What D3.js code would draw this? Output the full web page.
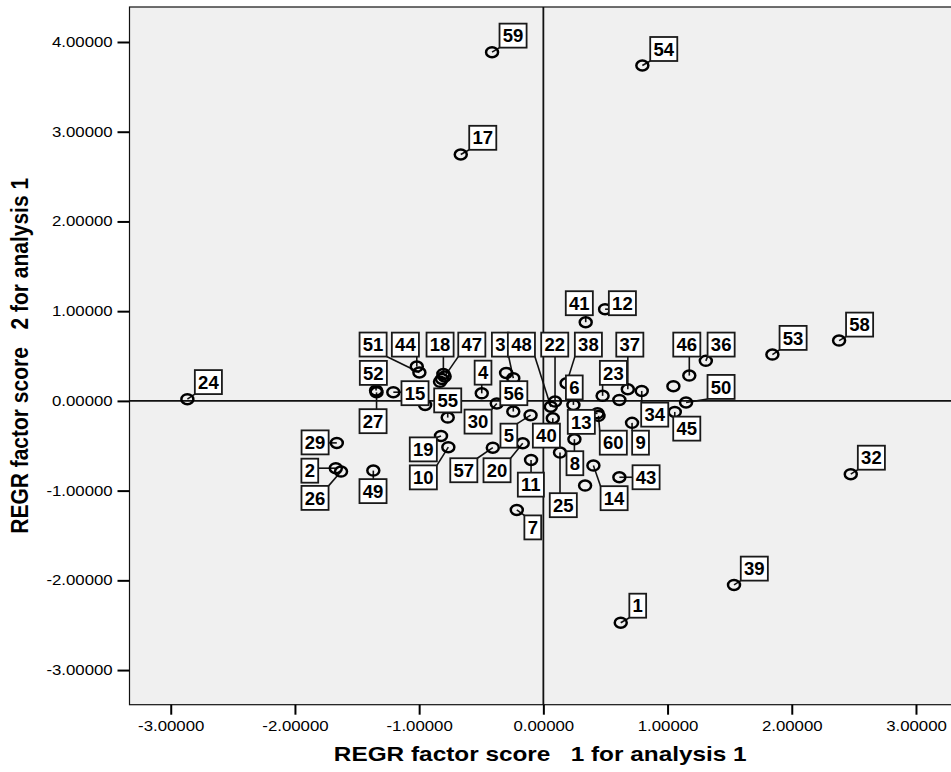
<!DOCTYPE html>
<html>
<head>
    <style>
        body { margin: 0; background: #fff; }
        text { font-family: "Liberation Sans", Arial, sans-serif; fill: #000; }
        .tick line { stroke: #000; stroke-width: 2px; }
        .tick text { font-size: 14px; }
        .axis-title { font-size: 21px; font-weight: bold; white-space: pre; }
        .ref { stroke: #111; stroke-width: 1.8px; }
        .leader { stroke: #111; stroke-width: 1.6px; }
        .pt { fill: none; stroke: #000; stroke-width: 2.5px; }
        .lbl rect { fill: #fff; stroke: #1a1a1a; stroke-width: 1.8px; }
        .lbl text { font-size: 18.5px; font-weight: bold; }
    </style>
</head>
<body>
    <script src="https://cdnjs.cloudflare.com/ajax/libs/d3/7.8.5/d3.min.js"></script>
    <script>
        // case numbers and their two factor scores
        var caseIds = d3.range(1, 61);
        var factor1 = [
            0.623, -1.671, -0.242, -0.496, -0.103, 0.242, -0.214, 0.250, 0.714, -0.765,
            -0.099, 0.497, 0.436, 0.403, -1.208, -0.300, -0.665, -0.805, -0.824, -0.166,
            -0.832, 0.094, 0.477, -2.866, 0.134, -1.629, -1.343, -0.952, -1.663, -0.375,
            0.612, 2.475, 1.047, 0.792, 0.336, 1.308, 0.680, 0.187, 1.535, 0.076,
            0.341, -0.816, 0.612, -1.019, 1.058, 1.175, -0.795, 0.060, -1.369, 1.149,
            -0.998, -1.347, 1.844, 0.797, -0.770, -0.242, -0.407, 2.381, -0.413, 0.444
        ];
        var factor2 = [
            -2.472, -0.750, 0.253, 0.084, -0.159, -0.045, -1.215, -0.427, -0.245, -0.516,
            -0.658, 1.022, -0.139, -0.721, 0.097, 0.312, 2.746, 0.301, -0.390, -0.472,
            0.212, -0.008, 0.056, 0.019, -0.576, -0.788, 0.095, -0.045, -0.468, -0.028,
            0.011, -0.817, 0.164, 0.111, -0.944, 0.446, 0.130, 0.197, -2.051, -0.193,
            0.877, 0.245, -0.851, 0.382, -0.123, 0.282, 0.273, -0.064, -0.777, -0.017,
            0.316, 0.117, 0.516, 3.738, -0.186, -0.119, -0.521, 0.672, 3.887, -0.167
        ];
        var xTicks = [-3, -2, -1, 0, 1, 2, 3];
        var yTicks = [-3, -2, -1, 0, 1, 2, 3, 4];
        var xTitle = "REGR factor score   1 for analysis 1";
        var yTitle = "REGR factor score   2 for analysis 1";

        // where each case label box sits, relative to its point (px); unlisted cases are unlabeled
        var labelOffsets = {
            1: [17, -17], 2: [-26, 2.5], 3: [-13, -33.6], 4: [1.3, -20.7], 5: [-21.7, 20.5],
            6: [0.9, -17.5], 7: [16, 17.5], 8: [0.5, 24], 9: [8.5, 19.8], 10: [-25, 30.2],
            11: [-0.2, 24.7], 12: [17.3, -6], 13: [-16.2, 8.5], 14: [20.7, 32.6], 15: [21.7, 1],
            17: [22, -16.7], 18: [-3.3, -29.3], 19: [-17.7, 13.5], 20: [-25.7, 27],
            22: [-0.3, -57], 23: [10.8, -23], 24: [21, -17.1], 25: [3.3, 52.6], 26: [-26, 26.3],
            27: [-3.5, 28.8], 29: [-21.7, -0.5], 30: [-18.7, 18.2], 32: [20.6, -16.5],
            34: [13, 23.7], 36: [15.3, -16.3], 37: [2, -44.6], 38: [21.8, -38.6], 39: [20.3, -16.3],
            40: [-6.4, 17.4], 41: [-6.4, -19], 43: [26.7, 0], 44: [-11.4, -22], 45: [12, 16.7],
            46: [-2.5, -31], 47: [27.2, -31.8], 48: [-29.4, -62], 49: [-0.3, 20.5], 50: [35, -15.5],
            51: [-46.3, -28], 52: [-2.7, -17.5], 53: [20.7, -16.7], 54: [21.4, -16.5],
            55: [0, -17.2], 56: [0.5, -18.4], 57: [-29, 22.6], 58: [20.5, -16], 59: [21, -16.5],
            60: [14.8, 26.8]
        };

        var width = 951, height = 772;
        var plot = { left: 129.5, top: 7, right: 952, bottom: 704.7 };

        var x = d3.scaleLinear().domain([-3.332, 3.29]).range([plot.left, plot.right]);
        var y = d3.scaleLinear().domain([-3.386, 4.39]).range([plot.bottom, plot.top]);

        var svg = d3.select("body").append("svg")
            .attr("width", width)
            .attr("height", height);

        // the source picture is stretched sideways, so text is too
        function stretch(sel, sx) {
            sel.each(function () {
                var t = d3.select(this);
                var tx = +t.attr("x") || 0, ty = +t.attr("y") || 0;
                t.attr("x", 0).attr("y", 0)
                    .attr("transform", "translate(" + tx + "," + ty + ") scale(" + sx + ",1)");
            });
        }

        // plot background and frame
        svg.append("rect")
            .attr("x", plot.left).attr("y", plot.top)
            .attr("width", plot.right - plot.left).attr("height", plot.bottom - plot.top)
            .attr("fill", "#f0f0f0").attr("stroke", "#111").attr("stroke-width", 1.2);

        // axes
        var fmt = function (d) { return d.toFixed(5); };
        var gx = svg.append("g")
            .attr("transform", "translate(0," + plot.bottom + ")")
            .call(d3.axisBottom(x).tickValues(xTicks).tickFormat(fmt).tickSize(10).tickPadding(6.3));
        var gy = svg.append("g")
            .attr("transform", "translate(" + plot.left + ",0)")
            .call(d3.axisLeft(y).tickValues(yTicks).tickFormat(fmt).tickSize(12).tickPadding(4.8));
        gx.select(".domain").remove();
        gy.select(".domain").remove();
        stretch(gx.selectAll(".tick text"), 1.2);
        stretch(gy.selectAll(".tick text"), 1.2);

        // reference lines through the origin
        svg.append("line").attr("class", "ref")
            .attr("x1", x(0)).attr("x2", x(0)).attr("y1", plot.top).attr("y2", plot.bottom);
        svg.append("line").attr("class", "ref")
            .attr("x1", plot.left).attr("x2", plot.right).attr("y1", y(0)).attr("y2", y(0));

        // axis titles
        svg.append("text").attr("class", "axis-title")
            .attr("text-anchor", "middle")
            .attr("transform", "translate(" + ((plot.left + 951) / 2) + ",761) scale(1.16,1)")
            .text(xTitle);
        svg.append("text").attr("class", "axis-title")
            .attr("text-anchor", "middle")
            .attr("transform", "translate(28," + ((plot.top + plot.bottom) / 2) + ") scale(1.16,1) rotate(-90)")
            .text(yTitle);

        var points = caseIds.map(function (id, i) {
            return { id: id, px: x(factor1[i]), py: y(factor2[i]), off: labelOffsets[id] };
        });
        var labeled = points.filter(function (d) { return d.off; });

        // label boxes are measured first so leaders can reach their edges
        var lblLayer = svg.append("g");
        var leaderLayer = lblLayer.append("g");
        var pointLayer = lblLayer.append("g");
        var boxLayer = lblLayer.append("g");

        var lbl = boxLayer.selectAll(".lbl")
            .data(labeled)
            .enter().append("g")
            .attr("class", "lbl")
            .attr("transform", function (d) {
                return "translate(" + (d.px + d.off[0]) + "," + (d.py + d.off[1]) + ")";
            });
        var rects = lbl.append("rect");
        lbl.append("text")
            .attr("text-anchor", "middle")
            .attr("dy", "0.36em")
            .text(function (d) { return d.id; })
            .each(function (d) { d.w = this.getComputedTextLength() + 6.5; d.h = 24; });
        rects
            .attr("x", function (d) { return -d.w / 2; })
            .attr("y", function (d) { return -d.h / 2; })
            .attr("width", function (d) { return d.w; })
            .attr("height", function (d) { return d.h; });

        // leader from the point centre to the nearest spot on its box
        leaderLayer.selectAll(".leader")
            .data(labeled)
            .enter().append("line")
            .attr("class", "leader")
            .attr("x1", function (d) { return d.px; })
            .attr("y1", function (d) { return d.py; })
            .attr("x2", function (d) {
                var cx = d.px + d.off[0];
                return Math.max(cx - d.w / 2, Math.min(cx + d.w / 2, d.px));
            })
            .attr("y2", function (d) {
                var cy = d.py + d.off[1];
                return Math.max(cy - d.h / 2, Math.min(cy + d.h / 2, d.py));
            });

        pointLayer.selectAll(".pt")
            .data(points)
            .enter().append("ellipse")
            .attr("class", "pt")
            .attr("cx", function (d) { return d.px; })
            .attr("cy", function (d) { return d.py; })
            .attr("rx", 6)
            .attr("ry", 5);
    </script>
</body>
</html>
